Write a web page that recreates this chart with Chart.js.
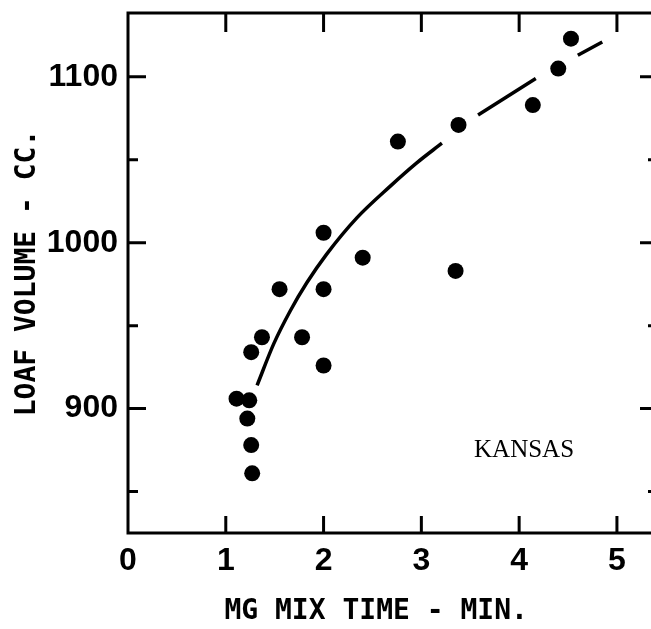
<!DOCTYPE html>
<html>
<head>
<meta charset="utf-8">
<script src="https://cdn.jsdelivr.net/npm/chart.js@4"></script>
<style>
  html, body { margin: 0; padding: 0; background: #fff; overflow: hidden; }
</style>
</head>
<body>
<canvas id="chart" width="660" height="629"></canvas>
<script>
// scatter points: mix time (min) and loaf volume (cc)
const mixTime = [1.11, 1.24, 1.22, 1.26, 1.27, 1.26, 1.37, 1.55, 1.78, 2.00, 2.00, 2.00, 2.40, 2.76, 3.35, 3.38, 4.14, 4.40, 4.53];
const loafVolume = [906, 905, 894, 878, 861, 934, 943, 972, 943, 926, 972, 1006, 991, 1061, 983, 1071, 1083, 1105, 1123];

// hand-drawn fitted curve; null marks the gaps between the dashes
const curveTime = [1.32, 1.49, 1.66, 1.83, 2.03, 2.34, 2.68, 2.95, 3.21, 3.40, 3.58, 4.17, 4.40, 4.60, 4.85];
const curveVolume = [914, 939, 959, 976, 993, 1015, 1034, 1048, 1060, null, 1077, 1099, null, 1113, 1121];

const xTicks = [0, 1, 2, 3, 4, 5];
const yTicks = [900, 1000, 1100];
const yMinorTicks = [850, 950, 1050];
const stateLabel = "KANSAS";

const tickFont = { family: "'Liberation Sans', Arial, sans-serif", size: 32, weight: "bold" };
const titleFont = { family: "'DejaVu Sans Mono'", size: 28, weight: "bold" };

// box with inward ticks, like the original drawing
const framePlugin = {
  id: "frame",
  afterDraw(chart) {
    const { ctx, chartArea: a, scales } = chart;
    const xs = scales.x, ys = scales.y;
    ctx.save();
    ctx.strokeStyle = "#000";
    ctx.lineWidth = 3;
    ctx.beginPath();
    ctx.moveTo(a.right, a.top);
    ctx.lineTo(a.left, a.top);
    ctx.lineTo(a.left, a.bottom);
    ctx.lineTo(a.right, a.bottom);
    ctx.lineTo(a.right, a.top);
    xTicks.slice(1).forEach(v => {
      const px = xs.getPixelForValue(v);
      ctx.moveTo(px, a.top); ctx.lineTo(px, a.top + 19);
      ctx.moveTo(px, a.bottom); ctx.lineTo(px, a.bottom - 17);
    });
    yTicks.forEach(v => {
      const py = ys.getPixelForValue(v);
      ctx.moveTo(a.left, py); ctx.lineTo(a.left + 18, py);
      ctx.moveTo(a.right, py); ctx.lineTo(a.right - 18, py);
    });
    yMinorTicks.forEach(v => {
      const py = ys.getPixelForValue(v);
      ctx.moveTo(a.left, py); ctx.lineTo(a.left + 10, py);
      ctx.moveTo(a.right, py); ctx.lineTo(a.right - 10, py);
    });
    ctx.stroke();

    ctx.fillStyle = "#000";
    ctx.font = "25px 'Liberation Serif'";
    ctx.textAlign = "center";
    ctx.textBaseline = "middle";
    ctx.fillText(stateLabel, xs.getPixelForValue(4.05), ys.getPixelForValue(875));
    ctx.restore();
  }
};

const ctx = document.getElementById("chart").getContext("2d");

const myChart = new Chart(ctx, {
  type: "scatter",
  data: {
    datasets: [
      {
        label: "curve",
        data: curveTime.map((t, i) => ({ x: t, y: curveVolume[i] })),
        showLine: true,
        spanGaps: false,
        borderColor: "#000",
        borderWidth: 3.5,
        pointRadius: 0,
        cubicInterpolationMode: "monotone",
      },
      {
        label: "loaves",
        data: mixTime.map((t, i) => ({ x: t, y: loafVolume[i] })),
        backgroundColor: "#000",
        borderWidth: 0,
        pointRadius: 8,
      },
    ],
  },
  plugins: [framePlugin],
  options: {
    responsive: false,
    animation: false,
    layout: { autoPadding: false, padding: { top: 13, right: 2, left: 0, bottom: 0 } },
    plugins: {
      legend: { display: false },
      tooltip: { enabled: false },
    },
    scales: {
      x: {
        type: "linear",
        min: 0,
        max: 5.42,
        afterFit(scale) {
          scale.height = 96;
          scale.paddingLeft = 0;
          scale.paddingRight = 0;
        },
        grid: { display: false, drawTicks: false },
        border: { display: false },
        ticks: { stepSize: 1, includeBounds: false, color: "#000", font: tickFont, padding: 9 },
        title: { display: true, text: "MG MIX TIME - MIN.  ", color: "#000", font: titleFont, padding: { top: 0, bottom: 0 } },
      },
      y: {
        min: 825,
        max: 1138.5,
        afterFit(scale) {
          scale.width = 128;
          scale.paddingTop = 0;
          scale.paddingBottom = 0;
        },
        grid: { display: false, drawTicks: false },
        border: { display: false },
        ticks: { stepSize: 100, includeBounds: false, color: "#000", font: tickFont, padding: 10, callback: v => String(v) },
        title: { display: true, text: "LOAF VOLUME - CC.", color: "#000", font: titleFont, padding: { top: 11, bottom: 0 } },
      },
    },
  },
});
</script>
</body>
</html>
